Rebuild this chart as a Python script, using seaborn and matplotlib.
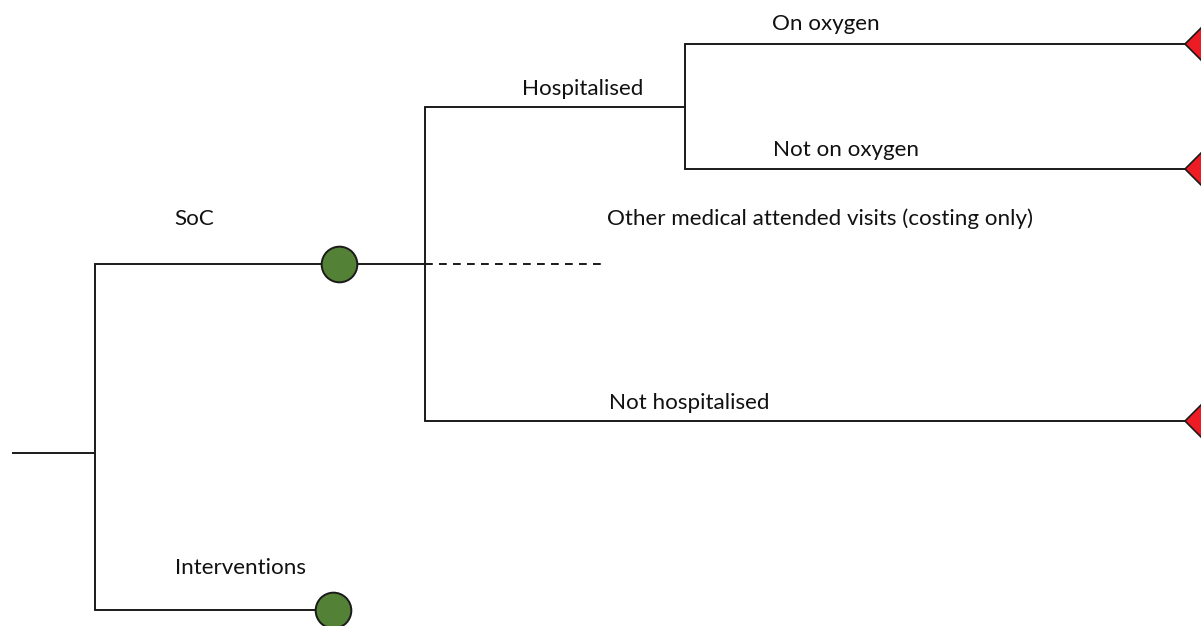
import matplotlib
matplotlib.use("Agg")
import matplotlib.pyplot as plt
import seaborn as sns
import pandas as pd
from matplotlib.patches import Polygon

sns.set_theme(style="white")
plt.rcParams['font.family'] = ['Lato', 'DejaVu Sans']

# Tree structure (pixel-space layout of the decision tree)
branch_labels = ["SoC", "Interventions", "Hospitalised",
                 "Other medical attended visits (costing only)",
                 "Not hospitalised", "On oxygen", "Not on oxygen"]
branch_x0 = [95, 95, 425, 425, 425, 685, 685]
branch_x1 = [425, 333, 685, 605, 1190, 1190, 1190]
branch_y = [264, 610, 107, 264, 421, 44, 169]
branch_style = ["solid", "solid", "solid", "dashed", "solid", "solid", "solid"]
label_x = [174, 175, 522, 607, 609, 772, 773]
label_y = [219, 568, 89, 219, 403, 24, 150]

chance_x = [339, 333]
chance_y = [264, 610]
terminal_x = [1201, 1201, 1201]
terminal_y = [44, 169, 421]

LINE = "#1a1a1a"
fig = plt.figure(figsize=(12.01, 6.26), dpi=100)
ax = fig.add_axes([0, 0, 1, 1])
ax.set_xlim(0, 1201)
ax.set_ylim(626, 0)
ax.axis("off")

# root stem and splitting verticals
ax.plot([12, 95], [453, 453], color=LINE, lw=1.4, solid_capstyle="butt")
ax.plot([95, 95], [264, 610], color=LINE, lw=1.4)
ax.plot([425, 425], [107, 421], color=LINE, lw=1.4)
ax.plot([685, 685], [44, 169], color=LINE, lw=1.4)

for x0, x1, y, st, lab, lx, ly in zip(branch_x0, branch_x1, branch_y, branch_style,
                                      branch_labels, label_x, label_y):
    df = pd.DataFrame({"x": [x0, x1], "y": [y, y]})
    if st == "dashed":
        ax.plot(df.x, df.y, color=LINE, lw=1.4, dashes=(4, 3.2))
    else:
        sns.lineplot(data=df, x="x", y="y", ax=ax, color=LINE, lw=1.4,
                     sort=False, estimator=None)
    ax.text(lx, ly, lab, fontsize=16.1, color="#111111", va="center", ha="left")

# chance nodes
sns.scatterplot(x=chance_x, y=chance_y, ax=ax, s=660, color="#538135",
                edgecolor=LINE, linewidth=1.4, zorder=5, clip_on=False)

# terminal nodes (diamonds cut by the right edge)
for tx, ty in zip(terminal_x, terminal_y):
    h = 16
    ax.add_patch(Polygon([[tx - h, ty], [tx, ty - h], [tx + h, ty], [tx, ty + h]],
                         closed=True, facecolor="#ED1C24", edgecolor=LINE,
                         lw=1.2, zorder=5))

ax.set_xlabel("")
ax.set_ylabel("")
fig.savefig("out.png", dpi=100)
